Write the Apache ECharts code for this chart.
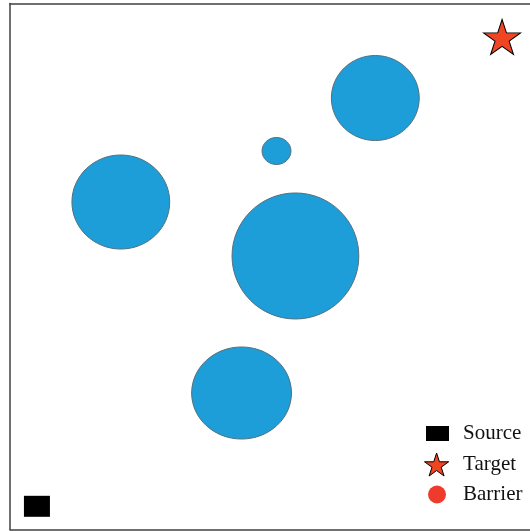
<!DOCTYPE html>
<html>
<head>
<meta charset="utf-8">
<script src="https://cdn.jsdelivr.net/npm/echarts@6/dist/echarts.min.js"></script>
<style>
html,body{margin:0;padding:0;background:#fff;}
#chart{width:530px;height:531px;}
</style>
</head>
<body>
<div id="chart"></div>
<script>
// Barrier ellipses: centre x, centre y, radius x, radius y (data units, 0..100 field)
const barrierX  = [70.25, 51.25, 21.31, 54.89, 44.53];
const barrierY  = [82.03, 71.96, 62.26, 52.00, 25.95];
const barrierRx = [8.45, 2.78, 9.40, 12.19, 9.60];
const barrierRy = [8.08, 2.57, 8.94, 11.98, 8.75];
// Source and target positions
const sourcePos = [5.18, 4.41];
const targetPos = [94.63, 93.63];
const legendNames = ['Source', 'Target', 'Barrier'];

const starPath = 'path://M50 0 L61.23 34.55 L97.55 34.55 L68.17 55.9 L79.39 90.45 L50 69.1 L20.61 90.45 L31.83 55.9 L2.45 34.55 L38.77 34.55 Z';

const barrierData = barrierX.map((x, i) => [x, barrierY[i], barrierRx[i], barrierRy[i]]);

const legendFont = {fontFamily: 'Liberation Serif, DejaVu Serif, serif', fontSize: 21, color: '#111'};
const frameLine = {show: true, onZero: false, lineStyle: {color: '#404040', width: 1.5}};
const bareAxis = {axisTick: {show: false}, axisLabel: {show: false}, splitLine: {show: false}};

const chart = echarts.init(document.getElementById('chart'), null, {renderer: 'canvas'});
chart.setOption({
  animation: false,
  backgroundColor: '#fff',
  grid: {left: 10, top: 3.5, width: 521, height: 526, show: false},
  xAxis: [
    Object.assign({type: 'value', min: 0, max: 100, position: 'bottom', axisLine: frameLine}, bareAxis),
    Object.assign({type: 'value', min: 0, max: 100, position: 'top', axisLine: frameLine}, bareAxis)
  ],
  yAxis: [
    Object.assign({type: 'value', min: 0, max: 100, position: 'left', axisLine: frameLine}, bareAxis)
  ],
  legend: [
    {
      orient: 'vertical', left: 426, top: 423, padding: 0,
      itemWidth: 23, itemHeight: 15,
      textStyle: Object.assign({}, legendFont, {lineHeight: 20, padding: [0, 0, 0, 9]}),
      data: [{name: legendNames[0], icon: 'rect', itemStyle: {color: '#000', borderWidth: 0}}]
    },
    {
      orient: 'vertical', left: 424, top: 452.5, padding: 0,
      itemWidth: 25, itemHeight: 23,
      textStyle: Object.assign({}, legendFont, {lineHeight: 23, padding: [0, 0, 0, 9]}),
      data: [{name: legendNames[1], icon: starPath, itemStyle: {color: '#EF4523', borderColor: '#000', borderWidth: 1}}]
    },
    {
      orient: 'vertical', left: 428, top: 484, padding: 0,
      itemWidth: 18, itemHeight: 18,
      textStyle: Object.assign({}, legendFont, {lineHeight: 20, padding: [0, 0, 0, 12]}),
      data: [{name: legendNames[2], icon: 'circle', itemStyle: {color: '#EE3B2B', borderWidth: 0}}]
    }
  ],
  series: [
    {
      name: legendNames[2],
      type: 'custom',
      data: barrierData,
      itemStyle: {color: '#1E9ED8'},
      renderItem: function (params, api) {
        const c = api.coord([api.value(0), api.value(1)]);
        const s = api.size([api.value(2), api.value(3)]);
        return {
          type: 'ellipse',
          shape: {cx: c[0], cy: c[1], rx: s[0], ry: s[1]},
          style: {fill: '#1E9ED8', stroke: '#51707f', lineWidth: 1}
        };
      }
    },
    {
      name: legendNames[0],
      type: 'scatter',
      data: [sourcePos],
      symbol: 'rect',
      symbolSize: [26, 21],
      itemStyle: {color: '#000', opacity: 1}
    },
    {
      name: legendNames[1],
      type: 'scatter',
      data: [targetPos],
      symbol: starPath,
      symbolSize: [37, 35],
      itemStyle: {color: '#EF4523', borderColor: '#000', borderWidth: 1, opacity: 1}
    }
  ]
});
</script>
</body>
</html>
